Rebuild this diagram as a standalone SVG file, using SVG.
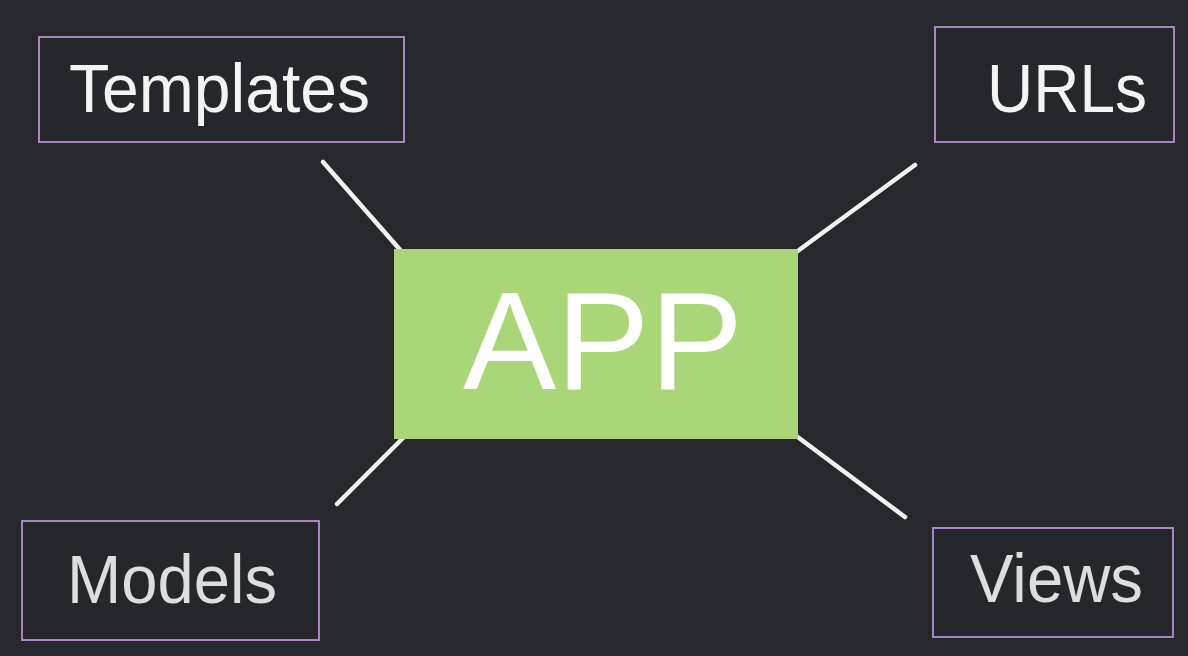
<svg xmlns="http://www.w3.org/2000/svg" width="1188" height="656" viewBox="0 0 1188 656">
<style>
.bg{fill:#26282e}
.box{fill:#25272d;stroke:#a985c4;stroke-width:2}
.lbl{font-family:"Liberation Sans",Arial,sans-serif;font-size:68px;fill:#f4f4f4}
.lbl2{font-family:"Liberation Sans",Arial,sans-serif;font-size:68px;fill:#dedede}
.con{stroke:#f2f2f2;stroke-width:4.5;stroke-linecap:round;fill:none}
</style>
<rect class="bg" x="0" y="0" width="1188" height="656"/>
<g id="connectors">
<line class="con" x1="323" y1="162" x2="402" y2="252"/>
<line class="con" x1="915" y1="165" x2="795" y2="253"/>
<line class="con" x1="337" y1="504" x2="403" y2="438"/>
<line class="con" x1="795" y1="435" x2="905" y2="517"/>
</g>
<g id="app">
<rect x="394" y="249" width="404" height="190" fill="#a9d676"/>
<text x="463" y="389" font-family="'Liberation Sans',Arial,sans-serif" font-size="140" fill="#ffffff" textLength="280" lengthAdjust="spacingAndGlyphs">APP</text>
</g>
<g id="templates">
<rect class="box" x="39" y="37" width="365" height="105"/>
<text class="lbl" x="69" y="112" textLength="301" lengthAdjust="spacingAndGlyphs">Templates</text>
</g>
<g id="urls">
<rect class="box" x="935" y="27" width="239" height="115"/>
<text class="lbl" x="987" y="112" textLength="160" lengthAdjust="spacingAndGlyphs">URLs</text>
</g>
<g id="models">
<rect class="box" x="22" y="521" width="297" height="119"/>
<text class="lbl2" x="67" y="603" textLength="210" lengthAdjust="spacingAndGlyphs">Models</text>
</g>
<g id="views">
<rect class="box" x="933" y="528" width="240" height="109"/>
<text class="lbl2" x="970" y="602" textLength="173" lengthAdjust="spacingAndGlyphs">Views</text>
</g>
</svg>
